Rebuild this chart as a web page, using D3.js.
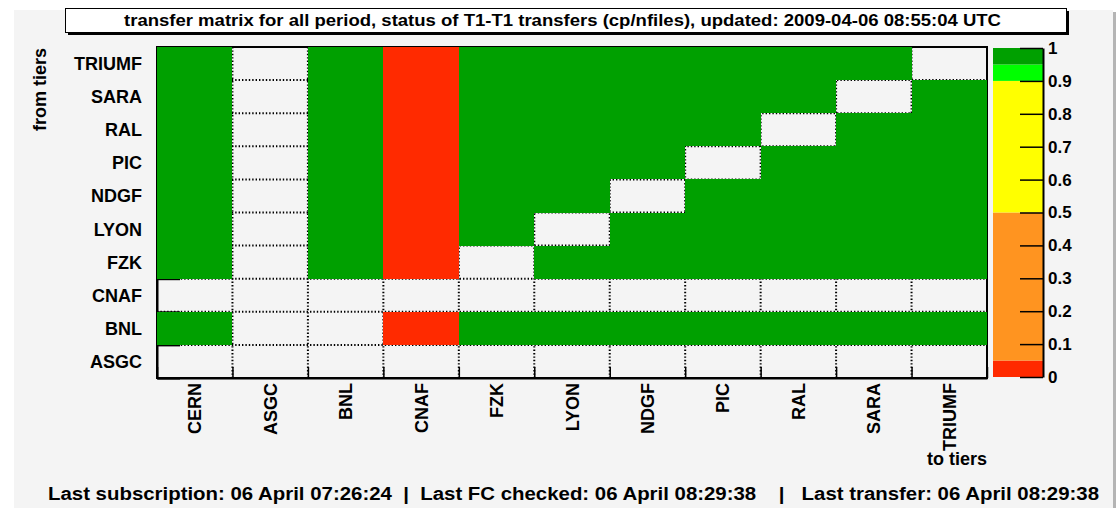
<!DOCTYPE html>
<meta charset="utf-8">
<html>
<head>
<title>transfer matrix T1-T1</title>
<style>
  body { margin: 0; background: white; }
  text { font-family: "Liberation Sans", Arial, sans-serif; }
</style>
</head>
<body>
<div id="chart"></div>
<script src="https://d3js.org/d3.v7.min.js"></script>
<script>

// destination tiers (columns), left to right
var toTiers = ["CERN", "ASGC", "BNL", "CNAF", "FZK", "LYON", "NDGF", "PIC", "RAL", "SARA", "TRIUMF"];
// source tiers (rows), bottom to top
var fromTiers = ["ASGC", "BNL", "CNAF", "FZK", "LYON", "NDGF", "PIC", "RAL", "SARA", "TRIUMF"];

// cp/nfiles ratio for each source row, null = no transfer
var rowASGC   = [null, null, null, null, null, null, null, null, null, null, null];
var rowBNL    = [1, null, null, 0, 1, 1, 1, 1, 1, 1, 1];
var rowCNAF   = [null, null, null, null, null, null, null, null, null, null, null];
var rowFZK    = [1, null, 1, 0, null, 1, 1, 1, 1, 1, 1];
var rowLYON   = [1, null, 1, 0, 1, null, 1, 1, 1, 1, 1];
var rowNDGF   = [1, null, 1, 0, 1, 1, null, 1, 1, 1, 1];
var rowPIC    = [1, null, 1, 0, 1, 1, 1, null, 1, 1, 1];
var rowRAL    = [1, null, 1, 0, 1, 1, 1, 1, null, 1, 1];
var rowSARA   = [1, null, 1, 0, 1, 1, 1, 1, 1, null, 1];
var rowTRIUMF = [1, null, 1, 0, 1, 1, 1, 1, 1, 1, null];
var ratios = [rowASGC, rowBNL, rowCNAF, rowFZK, rowLYON, rowNDGF, rowPIC, rowRAL, rowSARA, rowTRIUMF];

// palette steps
var paletteBreaks = [0.05, 0.5, 0.9, 0.95];
var paletteColors = ["#ff2a00", "#ff9420", "#ffff00", "#00ff00", "#00a000"];
var barTicks = [0, 0.1, 0.2, 0.3, 0.4, 0.5, 0.6, 0.7, 0.8, 0.9, 1];

var titleText = "transfer matrix for all period, status of T1-T1 transfers (cp/nfiles), updated: 2009-04-06 08:55:04 UTC";
var footerText = "Last subscription: 06 April 07:26:24  |  Last FC checked: 06 April 08:29:38    |   Last transfer: 06 April 08:29:38";

var W = 1119, H = 508;
var plot = {left: 157, right: 987, top: 47, bottom: 378};
var bar = {left: 993, right: 1043, top: 48, bottom: 377};

var svg = d3.select("#chart").append("svg")
    .attr("width", W)
    .attr("height", H);

// canvas panel
svg.append("rect")
    .attr("x", 1113).attr("y", 12).attr("width", 3).attr("height", H - 12)
    .attr("fill", "#b4b4b4");
svg.append("rect")
    .attr("x", 14).attr("y", 10).attr("width", 1099).attr("height", H - 10)
    .attr("fill", "#f4f4f4");

var color = d3.scaleThreshold().domain(paletteBreaks).range(paletteColors);

var x = d3.scaleBand().domain(toTiers).range([plot.left, plot.right]);
var y = d3.scaleBand().domain(fromTiers).range([plot.bottom, plot.top]);
var xLin = d3.scaleLinear().domain([0, toTiers.length]).range([plot.left, plot.right]);
var yLin = d3.scaleLinear().domain([0, fromTiers.length]).range([plot.bottom, plot.top]);

// dotted grid (under the cells)
var grid = svg.append("g")
    .attr("stroke", "#000")
    .attr("stroke-width", 2)
    .attr("stroke-dasharray", "1.4,2");
grid.selectAll(".gx").data(d3.range(1, toTiers.length)).enter().append("line")
    .attr("x1", function(d) { return xLin(d); }).attr("x2", function(d) { return xLin(d); })
    .attr("y1", plot.top).attr("y2", plot.bottom);
grid.selectAll(".gy").data(d3.range(1, fromTiers.length)).enter().append("line")
    .attr("y1", function(d) { return yLin(d); }).attr("y2", function(d) { return yLin(d); })
    .attr("x1", plot.left).attr("x2", plot.right);

// frame + axis ticks
svg.append("rect")
    .attr("x", plot.left).attr("y", plot.top)
    .attr("width", plot.right - plot.left).attr("height", plot.bottom - plot.top)
    .attr("fill", "none").attr("stroke", "#000").attr("stroke-width", 2);

var xAxis = svg.append("g")
    .attr("transform", "translate(0," + plot.bottom + ")")
    .call(d3.axisBottom(xLin).tickValues(d3.range(0, toTiers.length + 1)).tickSize(-11).tickSizeOuter(0).tickFormat(""));
xAxis.selectAll("line").attr("stroke-width", 1.5);
xAxis.select(".domain").attr("stroke-width", 2);

var yAxis = svg.append("g")
    .attr("transform", "translate(" + plot.left + ",0)")
    .call(d3.axisLeft(yLin).tickValues(d3.range(0, fromTiers.length + 1)).tickSize(-23).tickSizeOuter(0).tickFormat(""));
yAxis.selectAll("line").attr("stroke-width", 2);
yAxis.select(".domain").attr("stroke-width", 2);

// cells
var cells = [];
ratios.forEach(function(row, i) {
  row.forEach(function(v, j) {
    if (v !== null) cells.push({from: fromTiers[i], to: toTiers[j], value: v});
  });
});
svg.append("g").selectAll("rect").data(cells).enter().append("rect")
    .attr("x", function(d) { return x(d.to); })
    .attr("y", function(d) { return y(d.from); })
    .attr("width", x.bandwidth())
    .attr("height", y.bandwidth())
    .attr("fill", function(d) { return color(d.value); })
    .attr("shape-rendering", "crispEdges");

// row labels
svg.append("g").selectAll("text").data(fromTiers).enter().append("text")
    .attr("x", 142)
    .attr("y", function(d) { return y(d) + y.bandwidth() / 2 + 6.5; })
    .attr("text-anchor", "end")
    .style("font-size", "18px").style("font-weight", "bold")
    .text(function(d) { return d; });

// column labels
svg.append("g").selectAll("text").data(toTiers).enter().append("text")
    .attr("transform", function(d) { return "translate(" + (x(d) + x.bandwidth() / 2 + 6.5) + "," + (plot.bottom + 5) + ") rotate(-90)"; })
    .attr("text-anchor", "end")
    .style("font-size", "18px").style("font-weight", "bold")
    .text(function(d) { return d; });

svg.append("text")
    .attr("x", plot.right).attr("y", 465)
    .attr("text-anchor", "end")
    .style("font-size", "18px").style("font-weight", "bold")
    .text("to tiers");

svg.append("text")
    .attr("transform", "translate(46," + (plot.top + 1) + ") rotate(-90)")
    .attr("text-anchor", "end")
    .style("font-size", "18px").style("font-weight", "bold")
    .text("from tiers");

// palette bar
var z = d3.scaleLinear().domain([0, 1]).range([bar.bottom, bar.top]);
var steps = [0].concat(paletteBreaks).concat([1]);
svg.append("g").selectAll("rect").data(d3.range(paletteColors.length)).enter().append("rect")
    .attr("x", bar.left)
    .attr("width", bar.right - bar.left)
    .attr("y", function(i) { return z(steps[i + 1]); })
    .attr("height", function(i) { return z(steps[i]) - z(steps[i + 1]); })
    .attr("fill", function(i) { return paletteColors[i]; });

var zAxis = svg.append("g")
    .attr("transform", "translate(" + bar.right + ",0)")
    .call(d3.axisRight(z).tickValues(barTicks).tickSize(-23).tickSizeOuter(0).tickPadding(5)
      .tickFormat(function(d) { return d3.format("")(+d.toFixed(1)); }));
zAxis.selectAll("line").attr("stroke-width", 1.5);
zAxis.select(".domain").attr("stroke-width", 2);
zAxis.selectAll("text")
    .style("font-family", "'Liberation Sans', Arial, sans-serif")
    .style("font-size", "17px").style("font-weight", "bold").attr("fill", "#000");

// title box
svg.append("rect")
    .attr("x", 68).attr("y", 11).attr("width", 1001).attr("height", 24)
    .attr("fill", "#000");
svg.append("rect")
    .attr("x", 65.5).attr("y", 8.5).attr("width", 1001).attr("height", 24)
    .attr("fill", "#fff").attr("stroke", "#000").attr("stroke-width", 1);
svg.append("text")
    .attr("x", 124).attr("y", 25.5)
    .attr("textLength", 877).attr("lengthAdjust", "spacingAndGlyphs")
    .style("font-size", "16px").style("font-weight", "bold")
    .text(titleText);

// footer
svg.append("text")
    .attr("x", 48).attr("y", 500)
    .attr("textLength", 1051).attr("lengthAdjust", "spacingAndGlyphs")
    .style("font-size", "18px").style("font-weight", "bold")
    .style("white-space", "pre")
    .attr("xml:space", "preserve")
    .text(footerText);

</script>
</body>
</html>
